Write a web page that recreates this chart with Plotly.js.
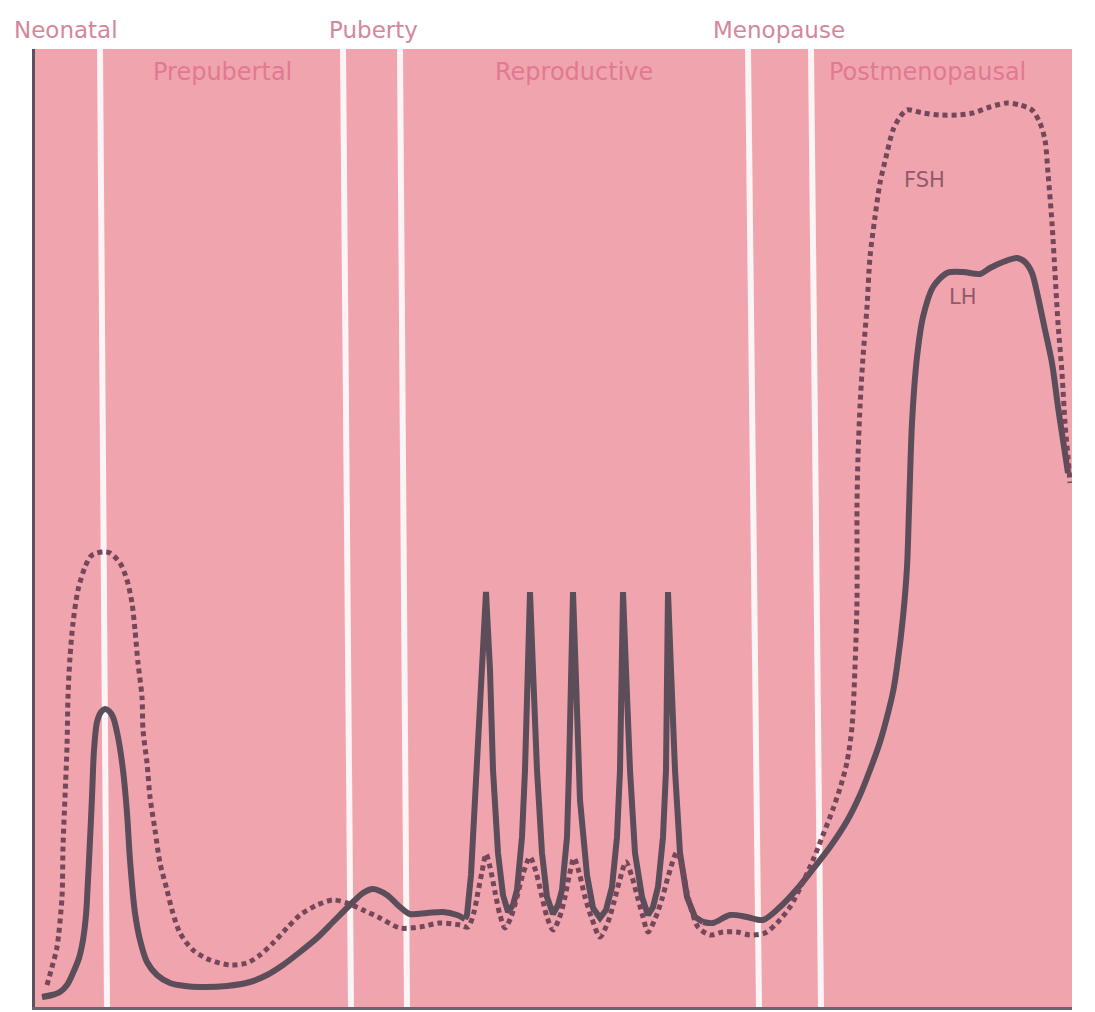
<!DOCTYPE html>
<html>
<head>
<meta charset="utf-8">
<script src="https://cdn.plot.ly/plotly-3.0.1.min.js"></script>
<style>html,body{margin:0;padding:0;background:#fff;}#chart{width:1095px;height:1012px;}</style>
</head>
<body>
<div id="chart"></div>
<script>
// Position along the life course (arbitrary units) and hormone level (arbitrary units)
// LH: smooth neonatal/prepubertal part, pulsatile reproductive part, smooth postmenopausal part
const lhX = [42,52,60,67,73,79,83,86,88,90,92,94,97,101,105,109,113,118,123,127,130,135,140,147,157,170,185,200,227,250,267,283,300,317,333,350,363,373,387,400,410,427,443,457,465,
  467,471,475,480,483,486,490,493,498,503,508,
  513,517,522,525,528,530,533,537,542,547,553,
  558,562,567,569,571,573,576,580,587,593,600,
  606,612,617,620,622,623,626,630,635,642,648,
  653,658,663,666,667,668,671,675,680,687,695,703,
  713,730,747,763,780,797,813,830,847,860,870,880,887,893,897,903,907,909,912,917,923,933,947,963,980,990,1003,1017,1025,1032,1038,1045,1052,1058,1063,1068];
const lhY = [10,12,15,22,34,49,67,92,127,167,210,257,285,295,298,296,290,270,237,194,147,94,67,45,32,24,21,20,21,25,32,42,55,69,85,102,114,118,112,100,93,94,95,92,88,
  92,132,204,304,367,415,337,237,154,112,95,
  102,117,170,237,337,415,337,237,154,110,93,
  102,117,170,237,337,415,327,207,132,99,89,
  97,120,170,237,337,415,337,237,154,110,92,
  100,120,170,237,337,415,337,237,154,110,90,85,
  84,92,90,87,100,118,138,160,186,212,237,265,290,315,340,390,440,497,584,650,690,720,734,735,733,739,745,749,745,734,710,677,644,600,567,534];
const pulseFrom = 466, pulseTo = 703;   // pulsatile stretch drawn with straight segments

const fshX = [47,52,57,62,63,65,67,68,70,73,78,85,91,97,104,110,120,127,132,135,138,142,143,147,150,155,160,167,172,180,193,210,230,247,260,273,287,300,317,333,347,363,380,400,420,440,460,468,
  474,478,482,486,490,495,500,505,
  511,517,523,530,536,542,547,553,
  559,565,569,574,579,585,592,600,
  608,614,620,626,632,638,643,648,
  655,662,668,677,682,687,692,698,
  710,723,737,750,765,777,790,803,813,823,833,841,847,852,855,857,857,858,860,863,867,870,875,880,887,893,900,907,923,940,957,973,990,1007,1020,1032,1040,1045,1048,1052,1055,1058,1062,1065,1068,1070];
const fshY = [22,40,60,110,160,210,260,310,350,384,417,440,451,454,455,454,444,427,404,377,344,310,277,244,210,177,144,117,97,74,57,47,42,44,52,64,79,92,102,107,104,97,89,79,80,84,82,80,
  95,115,135,153,140,115,92,79,
  90,110,133,150,135,110,90,77,
  88,110,130,149,135,110,88,70,
  85,105,128,145,130,108,90,75,
  88,108,130,155,140,115,95,80,
  72,75,75,72,74,84,100,125,147,172,198,222,245,280,340,407,500,550,600,650,700,750,790,824,854,877,890,897,894,892,892,894,900,904,902,897,884,867,834,784,734,684,634,584,550,524];

// Phase boundaries (bottom / top positions; the original is slightly tilted)
const boundBottom = [107,351,407,759,821];
const boundTop    = [100,343,400,748,811];

const eventLabels = ['Neonatal','Puberty','Menopause'];
const eventX = [66,373,779];
const phaseLabels = ['Prepubertal','Reproductive','Postmenopausal'];
const phaseX = [222,574,927];

const lhStyle = {color: '#5b4d59', width: 6};
function slice(xs, ys, test) {
  const ox = [], oy = [];
  xs.forEach((v, i) => { if (test(v)) { ox.push(v); oy.push(ys[i]); } });
  return [ox, oy];
}
const seg1 = slice(lhX, lhY, v => v <= pulseFrom);
const seg2 = slice(lhX, lhY, v => v >= 465 && v <= pulseTo);
const seg3 = slice(lhX, lhY, v => v >= pulseTo);

const traces = [
  {x: seg1[0], y: seg1[1], name: 'LH', mode: 'lines', type: 'scatter',
   line: Object.assign({shape: 'spline', smoothing: 0.8}, lhStyle), hoverinfo: 'skip'},
  {x: seg2[0], y: seg2[1], name: 'LH', mode: 'lines', type: 'scatter',
   line: Object.assign({shape: 'linear'}, lhStyle), hoverinfo: 'skip'},
  {x: seg3[0], y: seg3[1], name: 'LH', mode: 'lines', type: 'scatter',
   line: Object.assign({shape: 'spline', smoothing: 0.8}, lhStyle), hoverinfo: 'skip'},
  {x: fshX, y: fshY, name: 'FSH', mode: 'lines', type: 'scatter',
   line: {color: '#74485a', width: 5, dash: '5px,4px', shape: 'spline', smoothing: 0.8}, hoverinfo: 'skip'}
];

const shapes = boundBottom.map((b, i) => ({
  type: 'line', xref: 'x', yref: 'paper', x0: b, x1: boundTop[i], y0: 0, y1: 1,
  line: {color: '#fdf4f5', width: 6}, layer: 'below'
}));

const annotations = [];
eventLabels.forEach((t, i) => annotations.push({
  text: t, x: eventX[i], y: 1, xref: 'x', yref: 'paper', yanchor: 'middle', yshift: 19,
  showarrow: false, font: {family: 'DejaVu Sans', size: 23, color: '#d4879b'}
}));
phaseLabels.forEach((t, i) => annotations.push({
  text: t, x: phaseX[i], y: 935, xref: 'x', yref: 'y', showarrow: false,
  font: {family: 'DejaVu Sans', size: 24, color: '#e27891'}
}));
annotations.push({text: 'FSH', x: 924, y: 827, xref: 'x', yref: 'y', showarrow: false,
  font: {family: 'DejaVu Sans', size: 21, color: '#93596b'}});
annotations.push({text: 'LH', x: 963, y: 710, xref: 'x', yref: 'y', showarrow: false,
  font: {family: 'DejaVu Sans', size: 21, color: '#93596b'}});

const layout = {
  width: 1095, height: 1012,
  margin: {l: 35, r: 23, t: 49, b: 5},
  paper_bgcolor: '#ffffff',
  plot_bgcolor: '#f0a5ae',
  showlegend: false,
  xaxis: {range: [35, 1072], showgrid: false, zeroline: false, showticklabels: false, ticks: '',
          showline: true, linecolor: '#6a6470', linewidth: 3, fixedrange: true},
  yaxis: {range: [0, 958], showgrid: false, zeroline: false, showticklabels: false, ticks: '',
          showline: true, linecolor: '#5a5260', linewidth: 3, fixedrange: true},
  shapes: shapes,
  annotations: annotations
};

Plotly.newPlot('chart', traces, layout, {displayModeBar: false, staticPlot: true});
</script>
</body>
</html>
